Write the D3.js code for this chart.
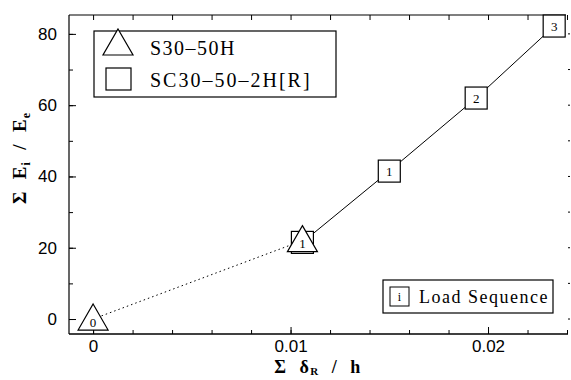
<html lang='en'>
  <head>
    <meta charset='UTF-8' />
    <script src='https://d3js.org/d3.v7.min.js'></script>
    <style>
      body { margin: 0; background: #fff; }
      .tick text { font-family: 'Liberation Sans', Arial, sans-serif; font-size: 17px; fill: #000; }
      .lbl { font-family: 'Liberation Serif', 'Times New Roman', serif; fill: #000; }
    </style>
    <title>Sum Ei/Ee vs drift</title>
  </head>
  <body>
  <div id='chart'></div>
  <script>

  //triangle series S30-50H
  const triX = [0, 0.0106];
  const triY = [0, 22];
  const triLabels = ["0", "1"];

  //square series SC30-50-2H[R] (first label sits under the triangle)
  const sqX = [0.0106, 0.015, 0.0194, 0.02335];
  const sqY = [21.5, 41.5, 62, 82.2];
  const sqLabels = ["", "1", "2", "3"];

  //ticks
  const xMajor = [0, 0.01, 0.02];
  const xMinor = [0, 0.002, 0.004, 0.006, 0.008, 0.01, 0.012, 0.014, 0.016, 0.018, 0.02, 0.022, 0.024];
  const yMajor = [0, 20, 40, 60, 80];
  const yMinor = [0, 10, 20, 30, 40, 50, 60, 70, 80];

  const width = 571, height = 380;
  const pLeft = 69, pRight = 568, pTop = 15, pBottom = 334;

  const svg = d3.select("#chart").append("svg")
    .attr("width", width).attr("height", height);

  const x = d3.scaleLinear().domain([-0.00122, 0.02405]).range([pLeft, pRight]);
  const y = d3.scaleLinear().domain([-4.2, 85.3]).range([pBottom, pTop]);

  //frame
  svg.append("line").attr("x1", pLeft).attr("x2", pLeft).attr("y1", pTop).attr("y2", pBottom)
    .attr("stroke", "#000").attr("stroke-width", 1.2);
  svg.append("line").attr("x1", pLeft).attr("x2", pRight).attr("y1", pBottom).attr("y2", pBottom)
    .attr("stroke", "#000").attr("stroke-width", 1.4);
  svg.append("line").attr("x1", pLeft).attr("x2", pRight - 2).attr("y1", pTop).attr("y2", pTop)
    .attr("stroke", "#000").attr("stroke-width", 1.2);

  //bottom axis
  const gx = svg.append("g").attr("transform", `translate(0,${pBottom})`)
    .call(d3.axisBottom(x).tickValues(xMajor).tickSize(-7).tickPadding(6)
      .tickFormat(d => d === 0 ? "0" : d3.format(".2f")(d)));
  gx.append("g").call(d3.axisBottom(x).tickValues(xMinor).tickSize(-4).tickFormat(""));
  svg.append("g").attr("transform", `translate(0,${pTop})`)
    .call(d3.axisTop(x).tickValues(xMinor).tickSize(-5).tickFormat(""));

  //left axis
  const gy = svg.append("g").attr("transform", `translate(${pLeft},0)`)
    .call(d3.axisLeft(y).tickValues(yMajor).tickSize(-7).tickPadding(12));
  gy.append("g").call(d3.axisLeft(y).tickValues(yMinor).tickSize(-4).tickFormat(""));

  //right side tick dots
  svg.append("g").selectAll("line").data(yMinor).join("line")
    .attr("x1", pRight).attr("x2", pRight + 2)
    .attr("y1", d => y(d)).attr("y2", d => y(d))
    .attr("stroke", "#000").attr("stroke-width", 1);

  svg.selectAll(".domain").remove();
  svg.selectAll(".tick line").attr("stroke", "#000");

  //lines
  svg.append("path")
    .datum(triX.map((d, i) => [d, triY[i]]))
    .attr("d", d3.line().x(d => x(d[0])).y(d => y(d[1])))
    .attr("fill", "none").attr("stroke", "#000").attr("stroke-width", 1)
    .attr("stroke-dasharray", "1.5,3");
  svg.append("path")
    .datum(sqX.map((d, i) => [d, sqY[i]]))
    .attr("d", d3.line().x(d => x(d[0])).y(d => y(d[1])))
    .attr("fill", "none").attr("stroke", "#000").attr("stroke-width", 1);

  //markers
  const sq = 22;
  const gSq = svg.append("g").selectAll("g").data(sqX).join("g")
    .attr("transform", (d, i) => `translate(${x(d)},${y(sqY[i])})`);
  gSq.append("rect").attr("x", -sq / 2).attr("y", -sq / 2).attr("width", sq).attr("height", sq)
    .attr("fill", "#fff").attr("stroke", "#000").attr("stroke-width", 1.2);
  gSq.filter((d, i) => sqLabels[i] !== "")
    .append("text").attr("class", "lbl").attr("text-anchor", "middle").attr("dy", "0.35em")
    .attr("font-size", 13).text((d, i) => sqLabels[sqX.indexOf(d)]);

  const triPath = "M0,-15 L15,11 L-15,11 Z";
  const gTri = svg.append("g").selectAll("g").data(triX).join("g")
    .attr("transform", (d, i) => `translate(${x(d)},${y(triY[i])})`);
  gTri.append("path").attr("d", triPath)
    .attr("fill", "#fff").attr("stroke", "#000").attr("stroke-width", 1.2);
  gTri.append("text").attr("class", "lbl").attr("text-anchor", "middle").attr("y", 3).attr("dy", "0.35em")
    .attr("font-size", 13).text((d, i) => triLabels[i]);

  //legend
  svg.append("rect").attr("x", 94).attr("y", 31).attr("width", 242).attr("height", 66)
    .attr("fill", "#fff").attr("stroke", "#000").attr("stroke-width", 1.2);
  svg.append("path").attr("d", triPath).attr("transform", "translate(118,44)")
    .attr("fill", "#fff").attr("stroke", "#000").attr("stroke-width", 1.2);
  svg.append("rect").attr("x", 106).attr("y", 68).attr("width", 25).attr("height", 22)
    .attr("fill", "#fff").attr("stroke", "#000").attr("stroke-width", 1.2);
  svg.append("text").attr("class", "lbl").attr("x", 150).attr("y", 55)
    .attr("font-size", 20).attr("letter-spacing", 1.5).text("S30\u201350H");
  svg.append("text").attr("class", "lbl").attr("x", 150).attr("y", 87)
    .attr("font-size", 20).attr("letter-spacing", 2).text("SC30\u201350\u20132H[R]");

  //load sequence box
  svg.append("rect").attr("x", 383).attr("y", 280).attr("width", 170).attr("height", 33)
    .attr("fill", "#fff").attr("stroke", "#000").attr("stroke-width", 1.2);
  svg.append("rect").attr("x", 390).attr("y", 287).attr("width", 19).attr("height", 19)
    .attr("fill", "#fff").attr("stroke", "#000").attr("stroke-width", 1);
  svg.append("text").attr("class", "lbl").attr("x", 399.5).attr("y", 301)
    .attr("text-anchor", "middle").attr("font-size", 12).text("i");
  svg.append("text").attr("class", "lbl").attr("x", 419).attr("y", 303)
    .attr("font-size", 18).attr("letter-spacing", 1.5).text("Load Sequence");

  //axis titles
  const xt = svg.append("text").attr("class", "lbl").attr("x", 318).attr("y", 373)
    .attr("text-anchor", "middle").attr("font-size", 18).attr("font-weight", "bold")
    .attr("letter-spacing", 1.5).attr("xml:space", "preserve");
  xt.append("tspan").text("\u03A3  \u03B4");
  xt.append("tspan").attr("font-size", 11).attr("dy", 2).text("R");
  xt.append("tspan").attr("dy", -2).text("  /  h");

  const yt = svg.append("text").attr("class", "lbl")
    .attr("transform", "translate(26,158) rotate(-90)")
    .attr("text-anchor", "middle").attr("font-size", 19).attr("font-weight", "bold")
    .attr("letter-spacing", 1).attr("xml:space", "preserve");
  yt.append("tspan").text("\u03A3  E");
  yt.append("tspan").attr("font-size", 12).attr("dy", 4).text("i");
  yt.append("tspan").attr("dy", -4).text("  /  E");
  yt.append("tspan").attr("font-size", 12).attr("dy", 4).text("e");

  </script>
  </body>
</html>
